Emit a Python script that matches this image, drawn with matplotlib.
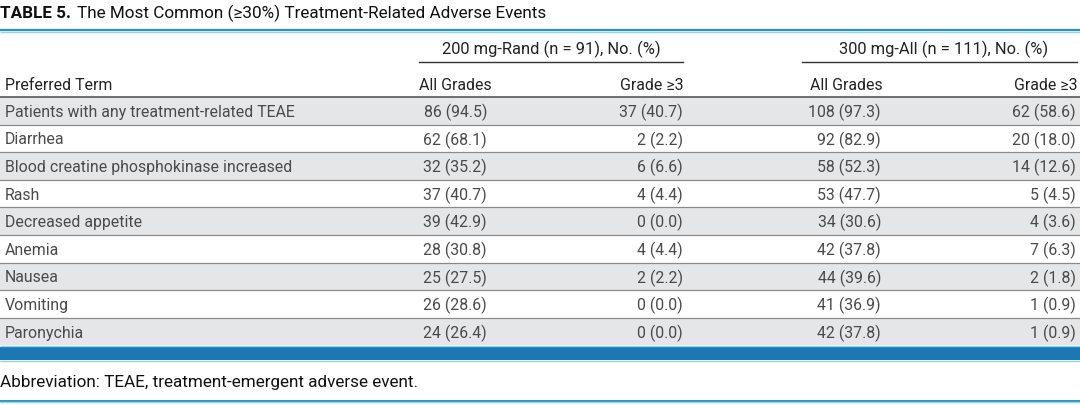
import matplotlib
matplotlib.use("Agg")
import matplotlib.pyplot as plt
from matplotlib.patches import Rectangle

plt.rcParams['font.family'] = ['Roboto', 'DejaVu Sans']

title_bold = "TABLE 5."
title_rest = "The Most Common (\u226530%) Treatment-Related Adverse Events"
groups = ["200 mg-Rand (n = 91), No. (%)", "300 mg-All (n = 111), No. (%)"]
col_heads = ["Preferred Term", "All Grades", "Grade \u22653", "All Grades", "Grade \u22653"]
terms = ["Patients with any treatment-related TEAE", "Diarrhea",
         "Blood creatine phosphokinase increased", "Rash", "Decreased appetite",
         "Anemia", "Nausea", "Vomiting", "Paronychia"]
rand_all = ["86 (94.5)", "62 (68.1)", "32 (35.2)", "37 (40.7)", "39 (42.9)",
            "28 (30.8)", "25 (27.5)", "26 (28.6)", "24 (26.4)"]
rand_g3 = ["37 (40.7)", "2 (2.2)", "6 (6.6)", "4 (4.4)", "0 (0.0)",
           "4 (4.4)", "2 (2.2)", "0 (0.0)", "0 (0.0)"]
all_all = ["108 (97.3)", "92 (82.9)", "58 (52.3)", "53 (47.7)", "34 (30.6)",
           "42 (37.8)", "44 (39.6)", "41 (36.9)", "42 (37.8)"]
all_g3 = ["62 (58.6)", "20 (18.0)", "14 (12.6)", "5 (4.5)", "4 (3.6)",
          "7 (6.3)", "2 (1.8)", "1 (0.9)", "1 (0.9)"]
footnote = "Abbreviation: TEAE, treatment-emergent adverse event."

W, H = 1080, 406
fig = plt.figure(figsize=(W / 100, H / 100), dpi=100)
ax = fig.add_axes([0, 0, 1, 1])
ax.set_xlim(0, W)
ax.set_ylim(H, 0)
ax.axis('off')

fs = 11.4
fs_big = 12.3
dark = '#222222'
grey = '#4a4a4a'
blue = '#1b78b2'
light = '#8fd3ee'

# title
t = ax.text(0, 13, title_bold, fontsize=fs_big, fontweight='bold', color='#111111', va='center')
fig.canvas.draw()
bb = t.get_window_extent().transformed(ax.transData.inverted())
ax.text(bb.x1 + 6, 13, title_rest, fontsize=fs_big, color='#111111', va='center')

# top rule
ax.plot([0, W], [31, 31], color='#2a8fc4', lw=1.6, solid_capstyle='butt')
ax.plot([0, W], [32.8, 32.8], color=light, lw=1.0, solid_capstyle='butt')

# group headers
ax.text(551, 49, groups[0], fontsize=11.9, color=dark, ha='center', va='center')
ax.plot([419, 683], [63, 63], color='#333333', lw=1.0)
ax.text(944, 49, groups[1], fontsize=11.9, color=dark, ha='center', va='center')
ax.plot([802, 1077], [63, 63], color='#333333', lw=1.0)

# column headers
hy = 85
ax.text(5, hy, col_heads[0], fontsize=fs, color=dark, va='center')
ax.text(419, hy, col_heads[1], fontsize=fs, color=dark, va='center')
ax.text(684, hy, col_heads[2], fontsize=fs, color=dark, va='center', ha='right')
ax.text(810, hy, col_heads[3], fontsize=fs, color=dark, va='center')
ax.text(1077, hy, col_heads[4], fontsize=fs, color=dark, va='center', ha='right')
ax.plot([0, W], [97.5, 97.5], color='#555555', lw=1.2)

# body rows
top, rh = 98, 27.6
for i, term in enumerate(terms):
    y0 = top + i * rh
    if i % 2 == 0:
        ax.add_patch(Rectangle((0, y0), W, rh, facecolor='#e5e6e7', edgecolor='none', zorder=0))
    yc = y0 + rh / 2 + 0.5
    ax.text(5, yc, term, fontsize=fs, color=grey, va='center')
    ax.text(487, yc, rand_all[i], fontsize=fs, color=grey, va='center', ha='right')
    ax.text(683, yc, rand_g3[i], fontsize=fs, color=grey, va='center', ha='right')
    ax.text(881, yc, all_all[i], fontsize=fs, color=grey, va='center', ha='right')
    ax.text(1076, yc, all_g3[i], fontsize=fs, color=grey, va='center', ha='right')
    if i < len(terms) - 1:
        ax.plot([0, W], [y0 + rh, y0 + rh], color='#8a8a8a', lw=0.9)

# thick blue band
bt = top + len(terms) * rh
ax.plot([0, W], [bt + 1, bt + 1], color=light, lw=1.0, solid_capstyle='butt')
ax.add_patch(Rectangle((0, bt + 2), W, 13, facecolor=blue, edgecolor='none'))
ax.plot([0, W], [bt + 15.5, bt + 15.5], color=light, lw=1.0, solid_capstyle='butt')

# footnote
ax.text(0, 383, footnote, fontsize=fs_big, color='#111111', va='center')
ax.plot([0, W], [401.5, 401.5], color='#2a8fc4', lw=1.4, solid_capstyle='butt')
ax.plot([0, W], [403.3, 403.3], color=light, lw=1.0, solid_capstyle='butt')

fig.savefig('out.png', dpi=100, facecolor='white')
